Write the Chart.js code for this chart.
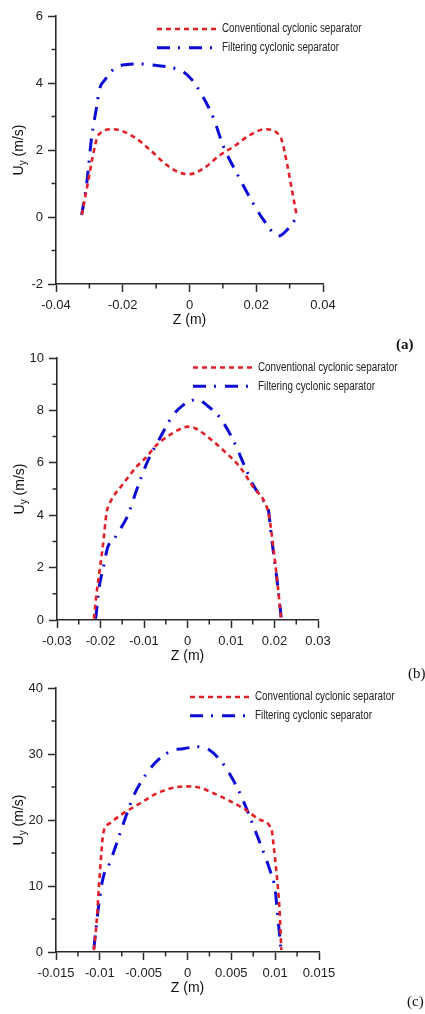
<!DOCTYPE html>
<html>
<head>
<meta charset="utf-8">
<script src="https://cdn.jsdelivr.net/npm/chart.js@4.4.0/dist/chart.umd.min.js"></script>
<style>
  body { margin: 0; background: #fff; width: 425px; height: 1014px; position: relative; overflow: hidden; }
  .panel { position: absolute; left: 0; }
  .tag { position: absolute; font-family: "Liberation Serif", serif; font-size: 15px; line-height: 18px; color: #111; }
</style>
</head>
<body>
<div class="panel" style="top:0"><canvas id="chartA" width="425" height="330"></canvas></div>
<div class="panel" style="top:330px"><canvas id="chartB" width="425" height="340"></canvas></div>
<div class="panel" style="top:670px"><canvas id="chartC" width="425" height="344"></canvas></div>
<div class="tag" style="left:396px;top:335px;font-weight:bold">(a)</div>
<div class="tag" style="left:408px;top:664px">(b)</div>
<div class="tag" style="left:407px;top:992px">(c)</div>
<script>
// ---- data ----
const seriesNames = ['Conventional cyclonic separator', 'Filtering cyclonic separator'];

// (a)
const zConvA = [-0.0323, -0.0303, -0.0288, -0.0273, -0.0228, -0.0168, -0.0118, -0.0068, -0.0028, 0.0002, 0.0042, 0.0092, 0.0132, 0.0182, 0.0227, 0.0272, 0.0292, 0.0307, 0.0322];
const uConvA = [0.06, 1.1, 1.9, 2.45, 2.62, 2.4, 2.0, 1.55, 1.32, 1.28, 1.45, 1.85, 2.1, 2.45, 2.62, 2.4, 1.6, 0.8, 0.0];
const zFiltA = [-0.0323, -0.0308, -0.0293, -0.0278, -0.027, -0.0253, -0.0223, -0.0188, -0.0148, -0.0098, -0.0053, -0.0018, 0.0007, 0.0037, 0.0072, 0.0102, 0.0142, 0.0182, 0.0222, 0.0267, 0.0292, 0.0322];
const uFiltA = [0.06, 1.0, 2.4, 3.3, 3.8, 4.1, 4.45, 4.55, 4.57, 4.52, 4.46, 4.33, 4.1, 3.65, 2.95, 2.1, 1.3, 0.56, -0.09, -0.57, -0.39, 0.0];
const xTicksA = [-0.04, -0.02, 0, 0.02, 0.04];
const xMinorA = [-0.03, -0.01, 0.01, 0.03];
const yTicksA = [-2, 0, 2, 4, 6];
const yMinorA = [-1, 1, 3, 5];

// (b)
const zConvB = [-0.0215, -0.021, -0.0202, -0.0194, -0.0186, -0.0179, -0.0148, -0.0117, -0.0094, -0.0071, -0.0041, -0.0014, 0.0002, 0.0021, 0.0051, 0.009, 0.012, 0.0151, 0.0182, 0.0188, 0.0197, 0.0207, 0.0215];
const uConvB = [0.05, 0.88, 1.9, 2.9, 4.1, 4.45, 5.2, 5.85, 6.23, 6.68, 7.06, 7.31, 7.38, 7.29, 6.93, 6.36, 5.85, 5.08, 4.32, 3.94, 2.8, 1.39, 0.05];
const zFiltB = [-0.0211, -0.0203, -0.0194, -0.0183, -0.0171, -0.0156, -0.0137, -0.0117, -0.0094, -0.0064, -0.0033, -0.001, 0.0009, 0.0023, 0.0044, 0.0074, 0.0105, 0.0132, 0.0151, 0.0174, 0.0186, 0.0193, 0.0205, 0.0216];
const uFiltB = [0.05, 1.26, 1.96, 2.8, 3.04, 3.43, 4.0, 4.96, 5.97, 6.93, 7.82, 8.2, 8.37, 8.42, 8.2, 7.73, 6.87, 5.85, 5.15, 4.57, 4.19, 3.17, 1.64, 0.01];
const xTicksB = [-0.03, -0.02, -0.01, 0, 0.01, 0.02, 0.03];
const xMinorB = [-0.025, -0.015, -0.005, 0.005, 0.015, 0.025];
const yTicksB = [0, 2, 4, 6, 8, 10];
const yMinorB = [1, 3, 5, 7, 9];

// (c)
const zConvC = [-0.01068, -0.01038, -0.01008, -0.0098, -0.00962, -0.00886, -0.00734, -0.00544, -0.00354, -0.00163, -0.0001, 0.0014, 0.0029, 0.0048, 0.0067, 0.0083, 0.0096, 0.0098, 0.0102, 0.0105, 0.0107];
const uConvC = [0.3, 4.3, 10.4, 15.4, 17.96, 19.5, 21.0, 22.5, 24.0, 24.9, 25.1, 24.9, 24.1, 22.9, 21.5, 20.0, 18.5, 16.4, 11.4, 6.4, 0.3];
const zFiltC = [-0.01068, -0.01038, -0.01, -0.0096, -0.0089, -0.0081, -0.0073, -0.0062, -0.0047, -0.0032, -0.0016, -0.0005, 0.001, 0.0025, 0.0037, 0.0048, 0.006, 0.0071, 0.0083, 0.0094, 0.01, 0.0103, 0.0107];
const uFiltC = [0.55, 4.3, 8.4, 11.4, 13.4, 16.4, 19.5, 23.5, 27.0, 29.3, 30.6, 30.8, 31.1, 30.6, 29.1, 27.0, 24.0, 20.5, 16.4, 12.4, 9.4, 5.3, 0.0];
const xTicksC = [-0.015, -0.01, -0.005, 0, 0.005, 0.01, 0.015];
const xMinorC = [-0.0125, -0.0075, -0.0025, 0.0025, 0.0075, 0.0125];
const yTicksC = [0, 10, 20, 30, 40];
const yMinorC = [5, 15, 25, 35];

// ---- styling ----
const RED = 'rgb(226,32,40)';
const BLUE = 'rgb(12,12,214)';
const INK = '#2a2a2a';
const SANS = '"Liberation Sans", Arial, sans-serif';

const pair = (xs, ys) => xs.map((x, i) => ({ x: x, y: ys[i] }));

// minor ticks, axis titles and the in-plot legend
const decorations = {
    id: 'decorations',
    afterDraw(chart, args, opts) {
        const ctx = chart.ctx;
        const xs = chart.scales.x, ys = chart.scales.y;
        const area = chart.chartArea;
        ctx.save();
        ctx.strokeStyle = INK;
        ctx.lineWidth = 1.5;
        ctx.beginPath();
        opts.xMinor.forEach(v => {
            const px = xs.getPixelForValue(v);
            ctx.moveTo(px, area.bottom);
            ctx.lineTo(px, area.bottom + 4.5);
        });
        opts.yMinor.forEach(v => {
            const py = ys.getPixelForValue(v);
            ctx.moveTo(area.left, py);
            ctx.lineTo(area.left - 4.5, py);
        });
        ctx.stroke();

        // x title
        ctx.fillStyle = '#111';
        ctx.font = '14px ' + SANS;
        ctx.textAlign = 'center';
        ctx.textBaseline = 'middle';
        ctx.fillText('Z (m)', (area.left + area.right) / 2, area.bottom + 36);

        // y title with subscript
        ctx.translate(opts.yTitleX, (area.top + area.bottom) / 2);
        ctx.rotate(-Math.PI / 2);
        ctx.textAlign = 'left';
        ctx.font = '14px ' + SANS;
        const wU = ctx.measureText('U').width;
        const rest = ' (m/s)';
        const wR = ctx.measureText(rest).width;
        ctx.font = '10px ' + SANS;
        const wY = ctx.measureText('y').width;
        let x0 = -(wU + wY + wR) / 2;
        ctx.font = '14px ' + SANS;
        ctx.fillText('U', x0, 0);
        ctx.font = '10px ' + SANS;
        ctx.fillText('y', x0 + wU, 4);
        ctx.font = '14px ' + SANS;
        ctx.fillText(rest, x0 + wU + wY, 0);
        ctx.setTransform(1, 0, 0, 1, 0, 0);

        // legend
        const lx = area.right - opts.legendDx;
        chart.data.datasets.forEach((ds, i) => {
            const ly = area.top + opts.legendDy + i * 18.7;
            ctx.strokeStyle = ds.borderColor;
            ctx.lineWidth = ds.borderWidth;
            ctx.setLineDash(ds.borderDash);
            ctx.beginPath();
            ctx.moveTo(lx, ly);
            ctx.lineTo(lx + 61, ly);
            ctx.stroke();
            ctx.setLineDash([]);
            ctx.save();
            ctx.translate(lx + 65, ly);
            ctx.scale(0.82, 1);
            ctx.fillStyle = '#222';
            ctx.font = '12px ' + SANS;
            ctx.textBaseline = 'middle';
            ctx.fillText(ds.label, 0, 0);
            ctx.restore();
        });
        ctx.restore();
    }
};

function makeChart(id, p) {
    const fmt = v => String(+(+v).toFixed(4));
    return new Chart(document.getElementById(id), {
        type: 'line',
        data: {
            datasets: [
                {
                    label: seriesNames[0],
                    data: pair(p.zConv, p.uConv),
                    borderColor: RED,
                    borderWidth: 2.6,
                    borderDash: [5, 4],
                    pointRadius: 0,
                    cubicInterpolationMode: 'monotone',
                    fill: false
                },
                {
                    label: seriesNames[1],
                    data: pair(p.zFilt, p.uFilt),
                    borderColor: BLUE,
                    borderWidth: 3,
                    borderDash: [13, 8, 2, 9],
                    pointRadius: 0,
                    cubicInterpolationMode: 'monotone',
                    fill: false
                }
            ]
        },
        options: {
            responsive: false,
            animation: false,
            clip: false,
            layout: { padding: { top: p.padTop, right: p.padRight, left: 0, bottom: 0 } },
            scales: {
                x: {
                    type: 'linear',
                    min: p.xTicks[0],
                    max: p.xTicks[p.xTicks.length - 1],
                    afterBuildTicks: s => { s.ticks = p.xTicks.map(v => ({ value: v })); },
                    afterFit: s => { s.height = p.xHeight; },
                    grid: { drawOnChartArea: false, tickLength: 8, tickColor: INK, tickWidth: 1.5 },
                    border: { color: INK, width: 1.6 },
                    ticks: { autoSkip: false, maxRotation: 0, padding: 6, color: '#222', font: { family: SANS, size: 13 }, callback: fmt }
                },
                y: {
                    min: p.yTicks[0],
                    max: p.yTicks[p.yTicks.length - 1],
                    afterBuildTicks: s => { s.ticks = p.yTicks.map(v => ({ value: v })); },
                    afterFit: s => { s.width = p.yWidth; },
                    grid: { drawOnChartArea: false, tickLength: 8, tickColor: INK, tickWidth: 1.5 },
                    border: { color: INK, width: 1.6 },
                    ticks: { autoSkip: false, padding: 5, color: '#222', font: { family: SANS, size: 13 }, callback: fmt }
                }
            },
            plugins: {
                legend: { display: false },
                tooltip: { enabled: false },
                decorations: {
                    xMinor: p.xMinor, yMinor: p.yMinor,
                    yTitleX: p.yTitleX, legendDx: p.legendDx, legendDy: p.legendDy
                }
            }
        },
        plugins: [decorations]
    });
}

makeChart('chartA', {
    zConv: zConvA, uConv: uConvA, zFilt: zFiltA, uFilt: uFiltA,
    xTicks: xTicksA, xMinor: xMinorA, yTicks: yTicksA, yMinor: yMinorA,
    padTop: 16, padRight: 102, yWidth: 56, xHeight: 46,
    yTitleX: 19, legendDx: 166, legendDy: 13
});
makeChart('chartB', {
    zConv: zConvB, uConv: uConvB, zFilt: zFiltB, uFilt: uFiltB,
    xTicks: xTicksB, xMinor: xMinorB, yTicks: yTicksB, yMinor: yMinorB,
    padTop: 28, padRight: 107, yWidth: 57, xHeight: 50,
    yTitleX: 20, legendDx: 125, legendDy: 9.5
});
makeChart('chartC', {
    zConv: zConvC, uConv: uConvC, zFilt: zFiltC, uFilt: uFiltC,
    xTicks: xTicksC, xMinor: xMinorC, yTicks: yTicksC, yMinor: yMinorC,
    padTop: 18, padRight: 106, yWidth: 56, xHeight: 62,
    yTitleX: 19, legendDx: 129, legendDy: 9
});
</script>
</body>
</html>
